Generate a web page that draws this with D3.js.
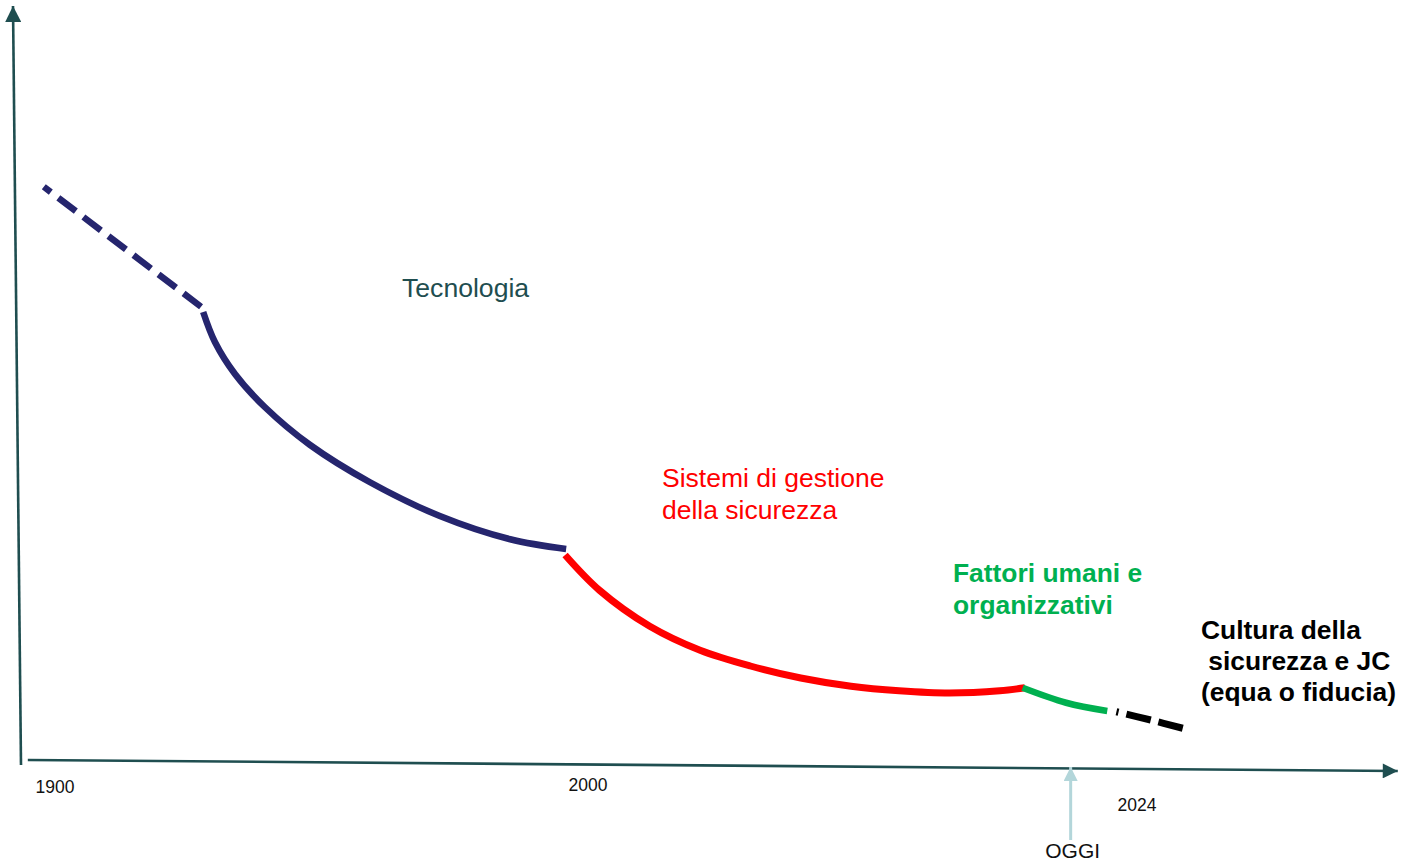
<!DOCTYPE html>
<html>
<head>
<meta charset="utf-8">
<script src="https://cdn.jsdelivr.net/npm/d3@7"></script>
<style>
  html, body { margin: 0; padding: 0; background: #fff; }
  svg { display: block; font-family: "Liberation Sans", Arial, sans-serif; }
</style>
</head>
<body>
<svg id="chart" width="1401" height="862"></svg>
<script>
// ---- DATA (schematic timeline: year, level) ----
const tickYears = [1900, 2000, 2024];
const tickLabels = ["1900", "2000", "2024"];
const todayYear = 2021.1;
const todayLabel = "OGGI";

const techDashed = [[1897.9, 76.7], [1927.4, 60.7]];
const techSolid = [[1927.8, 60.0], [1930.0, 56.0], [1933.8, 51.7], [1939.4, 47.3], [1947.8, 42.3],
  [1959.1, 37.3], [1972.2, 32.8], [1985.4, 29.7], [1995.9, 28.4]];
const sgsSolid = [[1995.7, 27.6], [2000.5, 22.9], [2002.7, 18.1], [2004.9, 14.9], [2007.1, 12.8],
  [2009.3, 11.2], [2011.5, 10.1], [2013.6, 9.5], [2015.8, 9.2], [2018.0, 9.5], [2019.1, 9.9]];
const hofSolid = [[2019.0, 9.9], [2020.9, 7.9], [2022.7, 6.8]];
const cultureDashed = [[2023.1, 6.7], [2024.6, 5.6], [2026.0, 4.5]];

const labelTech = ["Tecnologia"];
const labelSgs = ["Sistemi di gestione", "della sicurezza"];
const labelHof = ["Fattori umani e", "organizzativi"];
const labelCulture = ["Cultura della", " sicurezza e JC", "(equa o fiducia)"];

// ---- SCALES ----
const x = d3.scaleLinear().domain([1900, 2000, 2024]).range([55, 588, 1137]);
const y = d3.scaleLinear().domain([0, 100]).range([762, 12]);

const svg = d3.select("#chart");
const defs = svg.append("defs");
function marker(id, color, len, wid) {
  defs.append("marker").attr("id", id)
    .attr("viewBox", "0 0 10 10").attr("refX", 10).attr("refY", 5)
    .attr("markerUnits", "userSpaceOnUse")
    .attr("markerWidth", len).attr("markerHeight", wid)
    .attr("orient", "auto")
    .append("path").attr("d", "M0,0 L10,5 L0,10 Z").attr("fill", color);
}
const axisColor = "#1f4e50";
marker("arrAxisX", axisColor, 17, 15);
marker("arrAxisY", axisColor, 16, 16);
marker("arrToday", "#b3d6da", 15, 14);

// axes
svg.append("line")
  .attr("x1", 21).attr("y1", y(-0.4)).attr("x2", 13).attr("y2", y(100.8))
  .attr("stroke", axisColor).attr("stroke-width", 2.6).attr("marker-end", "url(#arrAxisY)");
svg.append("line")
  .attr("x1", x(1894.9)).attr("y1", y(0.27)).attr("x2", x(2035.4)).attr("y2", y(-1.2))
  .attr("stroke", axisColor).attr("stroke-width", 2.6).attr("marker-end", "url(#arrAxisX)");

// tick labels
const tickYOff = [793, 791, 811];
svg.selectAll("text.tick").data(tickYears).enter().append("text")
  .attr("class", "tick")
  .attr("x", d => x(d)).attr("y", (d, i) => tickYOff[i])
  .attr("text-anchor", "middle").attr("font-size", 17.5).attr("fill", "#111")
  .text((d, i) => tickLabels[i]);

// today arrow
svg.append("line")
  .attr("x1", x(todayYear)).attr("y1", 840).attr("x2", x(todayYear)).attr("y2", 767)
  .attr("stroke", "#b3d6da").attr("stroke-width", 3).attr("marker-end", "url(#arrToday)");
svg.append("text").attr("x", x(todayYear) + 2).attr("y", 858)
  .attr("text-anchor", "middle").attr("font-size", 21).attr("fill", "#111").text(todayLabel);

// curves
const line = d3.line().x(d => x(d[0])).y(d => y(d[1])).curve(d3.curveCatmullRom.alpha(0.5));
const lineR = d3.line().x(d => x(d[0])).y(d => y(d[1])).curve(d3.curveLinear);
const sw = 6.5;
svg.append("path").attr("d", lineR(techDashed.slice().reverse()))
  .attr("fill", "none").attr("stroke", "#25256e").attr("stroke-width", sw).attr("stroke-dasharray", "22,9.5");
svg.append("path").attr("d", line(techSolid))
  .attr("fill", "none").attr("stroke", "#25256e").attr("stroke-width", sw);
svg.append("path").attr("d", line(sgsSolid))
  .attr("fill", "none").attr("stroke", "#ff0000").attr("stroke-width", sw + 0.5);
svg.append("path").attr("d", line(hofSolid))
  .attr("fill", "none").attr("stroke", "#00b050").attr("stroke-width", sw);
svg.append("path").attr("d", line(cultureDashed.slice().reverse()))
  .attr("fill", "none").attr("stroke", "#000").attr("stroke-width", sw + 0.5).attr("stroke-dasharray", "25,8");

// labels
function block(lines, x0, y0, lh, color, weight, size) {
  const t = svg.append("text").attr("font-size", size).attr("font-weight", weight).attr("fill", color)
    .attr("xml:space", "preserve").style("white-space", "pre");
  lines.forEach((s, i) => t.append("tspan").attr("x", x0).attr("y", y0 + i * lh).text(s));
}
block(labelTech, 402, 297, 31, "#1f4e50", "normal", 26.6);
block(labelSgs, 662, 487, 31.5, "#ff0000", "normal", 26.5);
block(labelHof, 953, 582, 32, "#00b050", "bold", 26.4);
block(labelCulture, 1201, 639, 31, "#000", "bold", 26.4);
</script>
</body>
</html>
